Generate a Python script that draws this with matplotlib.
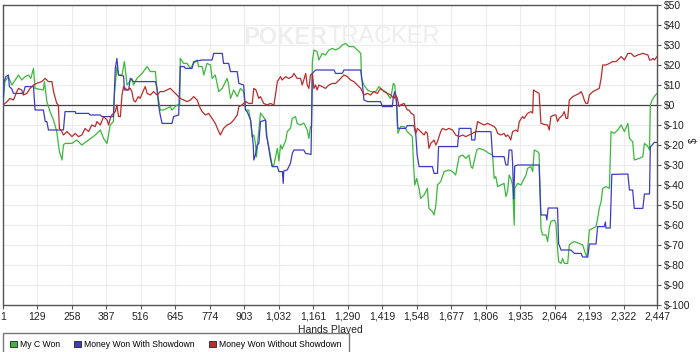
import matplotlib
matplotlib.use("Agg")
import matplotlib.pyplot as plt
from matplotlib.patches import Patch
from matplotlib.ticker import FuncFormatter

plt.rcParams['font.family'] = ['Liberation Sans', 'DejaVu Sans']

# data: (hand, dollars)
green_hands = [1, 8, 21, 34, 59, 71, 84, 96, 105, 115, 121, 152, 156, 165, 177, 190, 202, 212, 222, 227,
               233, 259, 277, 296, 321, 346, 365, 377, 390, 402, 414, 418, 427, 433, 446, 455, 465, 483, 489, 502,
               521, 540, 552, 571, 577, 589, 602, 614, 627, 633, 652, 662, 664, 677, 689, 702, 714, 727, 733, 746,
               752, 764, 777, 783, 795, 808, 821, 839, 845, 852, 864, 877, 889, 901, 908, 920, 927, 933, 939, 945,
               949, 954, 964, 975, 983, 989, 1001, 1008, 1014, 1027, 1033, 1039, 1045, 1051, 1058, 1064, 1076, 1083, 1095, 1101,
               1114, 1126, 1139, 1145, 1151, 1155, 1158, 1164, 1176, 1182, 1195, 1207, 1220, 1233, 1245, 1257, 1270, 1282, 1295, 1313,
               1326, 1339, 1342, 1351, 1364, 1376, 1395, 1407, 1420, 1432, 1445, 1451, 1461, 1466, 1470, 1476, 1478, 1488, 1501, 1513,
               1526, 1532, 1536, 1541, 1548, 1557, 1563, 1576, 1588, 1594, 1607, 1613, 1620, 1626, 1638, 1651, 1669, 1682, 1694, 1707,
               1720, 1732, 1744, 1751, 1757, 1763, 1773, 1782, 1800, 1819, 1832, 1838, 1844, 1851, 1863, 1875, 1882, 1888, 1894, 1900,
               1907, 1913, 1915, 1926, 1938, 1957, 1963, 1975, 1982, 1988, 2000, 2006, 2013, 2019, 2032, 2038, 2044, 2050, 2063, 2069,
               2075, 2079, 2088, 2094, 2100, 2113, 2119, 2125, 2138, 2156, 2169, 2181, 2185, 2194, 2207, 2219, 2225, 2231, 2238, 2244,
               2256, 2269, 2275, 2287, 2300, 2313, 2325, 2338, 2344, 2356, 2362, 2381, 2394, 2400, 2413, 2419, 2422, 2429, 2437, 2447]
green_vals = [0, 11.7, 14.2, 10, 15, 12.5, 14.2, 15, 13.3, 18.3, 8.3, 7.5, 11.7, 1.7, -3.3, -7.5, -13.3, -23.3, -27.5, -20,
              -19.2, -19.2, -17.5, -20, -17.5, -15, -12.5, -16.7, -19.2, -10, -8.3, 5.8, 19.2, 15, 15, 21.7, 10, 13.3, 10, 13.3,
              15.8, 19.2, 16.7, 16.7, 7.5, -2.5, -2.5, -1.7, -0.8, -2.5, 0, 0, 23.3, 20.8, 20.8, 18.3, 20.8, 22.5, 19.2, 19.2,
              15, 20.8, 20, 13.3, 15, 6.7, 8.3, 13.3, 10, 3.3, 7.5, 4.2, 8.3, 6.7, -2.5, -2.5, -8, -16, -15, -19,
              -26, -18, -4, -6, -7.5, -16.7, -25, -30.8, -30, -21.7, -28, -20, -22, -20, -18, -13.3, -11.7, -6.7, -5.8, -9.2,
              -10, -9, -12.5, -16.7, -10.8, -10.8, 21.7, 27.5, 26.7, 22.5, 25.8, 25, 27.5, 28.3, 27.5, 28.3, 30, 30.8, 29.2, 29.2,
              27.5, 25.8, 13.3, 10, 7.5, 6.7, 6.7, 9.2, 7.5, 6.7, 4.2, 3.3, 10.8, 10, 5, -5, -14.2, -10.8, -10.8, -13.3,
              -15, -15.8, -28.3, -40, -36.7, -41.7, -46.7, -45, -41.7, -51.7, -53.3, -55, -50, -40, -38.3, -33.3, -32.5, -33.3, -35, -25.8,
              -25, -26.7, -25, -30.8, -31.7, -28.3, -22.5, -21.7, -22.5, -24.2, -25, -36.7, -35.8, -40.8, -40, -39.2, -45.8, -43.3, -35, -36.7,
              -40, -60, -41.7, -39.2, -40, -35, -31.7, -30.8, -33.3, -22.5, -23.3, -24.2, -61.7, -65, -65, -68.3, -61.7, -58.3, -57.5, -59.2,
              -71.7, -78.3, -79.2, -76.7, -79.2, -79.2, -70, -69.2, -68.3, -69.2, -70, -75, -75.8, -62.5, -61.7, -60.8, -56.7, -51.7, -48.3, -41.7,
              -40.8, -41.7, -13.3, -14.2, -12.5, -10, -13.3, -9.2, -16.7, -18.3, -27.5, -26.7, -25.8, -19.2, -20.8, -22.5, 0, 2.5, 4.2, 5.8]

blue_hands = [1, 5, 12, 21, 25, 34, 40, 77, 84, 115, 121, 152, 159, 165, 171, 227, 233, 271, 273, 321,
              327, 365, 371, 414, 421, 427, 433, 452, 455, 471, 477, 489, 571, 577, 583, 589, 596, 633, 639, 658,
              664, 679, 683, 708, 714, 746, 783, 789, 821, 826, 845, 852, 877, 883, 901, 908, 914, 927, 933, 937,
              939, 945, 952, 958, 964, 983, 986, 991, 1001, 1008, 1027, 1033, 1046, 1049, 1051, 1064, 1076, 1083, 1089, 1126,
              1133, 1153, 1158, 1170, 1239, 1245, 1270, 1276, 1339, 1345, 1351, 1364, 1413, 1420, 1457, 1461, 1466, 1473, 1476, 1478,
              1507, 1513, 1538, 1545, 1550, 1557, 1607, 1613, 1626, 1630, 1701, 1707, 1751, 1754, 1766, 1769, 1826, 1832, 1875, 1882,
              1889, 1894, 1904, 1907, 1911, 1915, 1926, 2006, 2013, 2032, 2035, 2040, 2075, 2079, 2088, 2125, 2138, 2163, 2169, 2188,
              2194, 2219, 2225, 2250, 2254, 2256, 2272, 2278, 2338, 2344, 2356, 2362, 2394, 2400, 2419, 2422, 2437, 2447]
blue_vals = [0, 11.7, 14.2, 15, 9.2, 8, 5.8, 5.8, 9.2, 9.2, -2.5, -2.5, -8.3, -8.3, -12.5, -12.5, -3.3, -3.3, -4.2, -4.2,
             -5, -5, -5.8, -5.8, 18.3, 23.3, 15, 14.5, 7.5, 7.5, 13.3, 11.7, 11.7, 8.3, 0, -5, -9.2, -9.2, -5.8, -5,
             19.2, 19.2, 18.3, 18.3, 21.7, 22.5, 22.5, 25.8, 25.8, 20.8, 20.8, 16.7, 16.7, 10.8, 10, -2.5, -3.3, -7.5, -15, -20,
             -27.5, -25, -20, -19.2, -8.3, -7.5, -15, -18.3, -26.7, -30.8, -30.8, -33.3, -33.3, -39.2, -33, -32.5, -29.2, -24.2, -22.5, -22.5,
             -24.2, -24.7, 15.8, 17.5, 17.5, 15.8, 15.8, 17.5, 17.5, 10.8, 2.5, 1.7, 1.7, -0.8, -0.8, 4.2, 6.7, 1.7, -10, -11.7,
             -11.7, -10.3, -10.3, -15, -25, -30.8, -30.8, -34.2, -34.2, -20.8, -20.8, -11.7, -11.7, -17.5, -17.5, -13.3, -13.3, -25.8, -25.8, -30,
             -30, -22.5, -22.5, -29.2, -47, -30.5, -30, -30, -55, -55, -57.5, -51.5, -51.5, -69.2, -72.5, -72.5, -74.2, -74.2, -76, -76,
             -69.5, -69.5, -60.8, -60.8, -58.5, -61.5, -61.5, -34.7, -34.5, -42.5, -42.5, -51.7, -51.7, -44.5, -44.5, -21, -18.7, -18.7]

red_hands = [1, 15, 27, 40, 53, 59, 71, 77, 90, 102, 115, 127, 146, 159, 171, 184, 190, 202, 208, 212,
             221, 227, 240, 259, 271, 283, 296, 308, 321, 333, 346, 352, 365, 377, 390, 396, 402, 408, 421, 427,
             433, 440, 446, 452, 465, 477, 483, 489, 496, 507, 514, 527, 533, 540, 552, 564, 577, 589, 602, 614,
             627, 639, 652, 664, 677, 689, 702, 714, 727, 739, 746, 758, 770, 783, 795, 808, 814, 826, 839, 852,
             864, 877, 883, 895, 908, 920, 933, 939, 947, 958, 964, 976, 989, 1001, 1014, 1020, 1027, 1039, 1045, 1058,
             1070, 1083, 1089, 1101, 1114, 1120, 1126, 1133, 1139, 1145, 1151, 1158, 1164, 1170, 1176, 1182, 1195, 1207, 1220, 1233,
             1245, 1264, 1276, 1289, 1301, 1313, 1326, 1339, 1351, 1364, 1376, 1388, 1401, 1413, 1426, 1439, 1451, 1463, 1470, 1476,
             1482, 1488, 1501, 1507, 1513, 1519, 1528, 1538, 1541, 1545, 1551, 1563, 1576, 1582, 1588, 1594, 1601, 1613, 1620, 1626,
             1638, 1645, 1657, 1669, 1682, 1694, 1707, 1720, 1732, 1744, 1757, 1769, 1776, 1788, 1800, 1813, 1826, 1838, 1844, 1851,
             1863, 1875, 1882, 1888, 1894, 1900, 1907, 1919, 1926, 1932, 1944, 1950, 1963, 1975, 1982, 1985, 1994, 2006, 2013, 2025,
             2038, 2044, 2050, 2063, 2069, 2075, 2081, 2094, 2100, 2107, 2113, 2119, 2132, 2144, 2156, 2163, 2169, 2175, 2181, 2188,
             2194, 2207, 2219, 2231, 2238, 2244, 2256, 2269, 2281, 2294, 2306, 2313, 2325, 2338, 2350, 2362, 2375, 2394, 2413, 2419,
             2425, 2432, 2437, 2447]
red_vals = [0, 1.5, 3.3, 2.5, 6.7, 8.3, 7.5, 5, 5.8, 8.3, 10, 10.8, 11.7, 13.3, 11.7, 11.7, 6.7, 0.8, 0, -11.7,
            -13.3, -15, -13.3, -15.8, -14.2, -15.8, -15, -11.7, -13.3, -10, -10.8, -8.3, -10, -5.8, -7.5, -10, -6.7, -5, -3.3, 0,
            -5.8, -5.8, 5, 9.2, 7.5, 8.3, 6.7, 2.5, 1.5, 4.2, 3.3, 7.5, 9.2, 5.8, 5, 6.7, 5, 6.7, 6.7, 7.5,
            8.3, 6.7, 5, 3.3, 2.5, 1.7, 2.5, 4.2, 2.5, -1.7, -3.3, -5, -4.2, -6.7, -9.2, -13.3, -15, -11.7, -10, -9.2,
            -7.5, -5, -0.8, 0, 1.7, 0.8, 0.8, 8.3, 7.5, 3.3, 4.2, 0.8, 0, 0.8, 0, 5, 11.7, 14.2, 12.5, 14.2,
            13.3, 14.2, 15.8, 13.3, 13.3, 10, 12.5, 15.8, 10, 8.3, 15, 15.8, 8.3, 10, 7.5, 10, 9.2, 8.3, 10, 10.8,
            10.8, 13.3, 15, 14.2, 12.5, 11.7, 10, 8.3, 5, 5.8, 5, 6.7, 5.8, 8.3, 6.7, 5.8, 5, 3.3, 5, 3.3,
            -0.8, 0, 0.8, -0.8, -2.5, -2.5, -4.2, -5, -10.8, -14.2, -11.7, -13.3, -15, -13.3, -14.2, -21.7, -19.2, -17.5, -20, -18.3,
            -13.3, -11.7, -12.5, -11.7, -12.5, -15, -15.8, -15, -15.8, -15, -14.2, -13.3, -8.3, -9.2, -10, -9.2, -10, -10.8, -11.7, -14.2,
            -15, -14.2, -15.8, -15, -15.8, -17.5, -13.3, -12.5, -13.3, -8.3, -5.8, -6.7, -4.2, -3.3, -4, 7.5, 6.7, 5.8, -9.2, -9.7,
            -10, -12.5, -5.8, -5, -5, -8.3, -6.7, -5, -3.3, -6.7, -6.7, 2.5, 4.2, 5, 5.8, 6.7, 5, 2.5, 0.8, 0.8,
            5, 6.7, 7.5, 8.3, 13.3, 20, 20, 20.8, 21.7, 21.7, 23.3, 24.2, 22.5, 25.8, 25.8, 24.2, 25, 25.8, 25, 22.5,
            22.5, 23.3, 22.5, 24.2]

x_ticks = [1, 129, 258, 387, 516, 645, 774, 903, 1032, 1161, 1290, 1419, 1548, 1677, 1806, 1935, 2064, 2193, 2322, 2447]
y_ticks = list(range(-100, 51, 10))

green = '#3cb83c'
blue = '#3c3cc8'
red = '#bb2c2c'

fig = plt.figure(figsize=(7, 3.52), dpi=100)
ax = fig.add_axes([3/700, 1 - 305/352, 654/700, 300/352])

ax.set_xlim(1, 2447)
ax.set_ylim(-100, 50)

# grid
ax.set_xticks(x_ticks)
ax.set_yticks(y_ticks)
ax.grid(True, color='#ececec', lw=0.8)
ax.set_axisbelow(True)

# watermark
ax.text(1215, 34, 'POKER', ha='right', va='center', fontsize=17, fontweight='bold',
        color='#eeeeee', zorder=1)
ax.text(1215, 34, 'TRACKER', ha='left', va='center', fontsize=17, color='#eeeeee', zorder=1)

ax.axhline(0, color='#444444', lw=0.9, zorder=2)

ax.plot(green_hands, green_vals, color=green, lw=0.9, zorder=3)
ax.plot(blue_hands, blue_vals, color=blue, lw=0.9, zorder=4)
ax.plot(red_hands, red_vals, color=red, lw=0.9, zorder=5)

for s in ax.spines.values():
    s.set_color('#555555')
    s.set_linewidth(1.0)

ax.yaxis.tick_right()
ax.yaxis.set_major_formatter(FuncFormatter(lambda v, p: f'${int(v)}'))
ax.xaxis.set_major_formatter(FuncFormatter(lambda v, p: f'{int(v):,}'))
ax.tick_params(axis='both', labelsize=7.5, colors='#555555', labelcolor='#222222', length=3, width=0.8, pad=2)
ax.set_xlabel('Hands Played', fontsize=7.5, color='#222222', labelpad=2)
fig.text(694/700, 1 - 140/352, '$', rotation=90, fontsize=7, color='#222222', ha='center', va='center')

handles = [Patch(facecolor=green, edgecolor='#222222', lw=0.6, label='My C Won'),
           Patch(facecolor=blue, edgecolor='#222222', lw=0.6, label='Money Won With Showdown'),
           Patch(facecolor=red, edgecolor='#222222', lw=0.6, label='Money Won Without Showdown')]
leg = fig.legend(handles=handles, loc='upper left', bbox_to_anchor=(3/700, 1 - 333/352), ncol=3,
                 fontsize=6.2, frameon=True, fancybox=False, handlelength=0.8, handleheight=0.8,
                 handletextpad=0.4, columnspacing=1.6, borderpad=0.8, borderaxespad=0)
leg.get_frame().set_edgecolor('#555555')
leg.get_frame().set_linewidth(1.0)

fig.savefig('out.png', dpi=100)
